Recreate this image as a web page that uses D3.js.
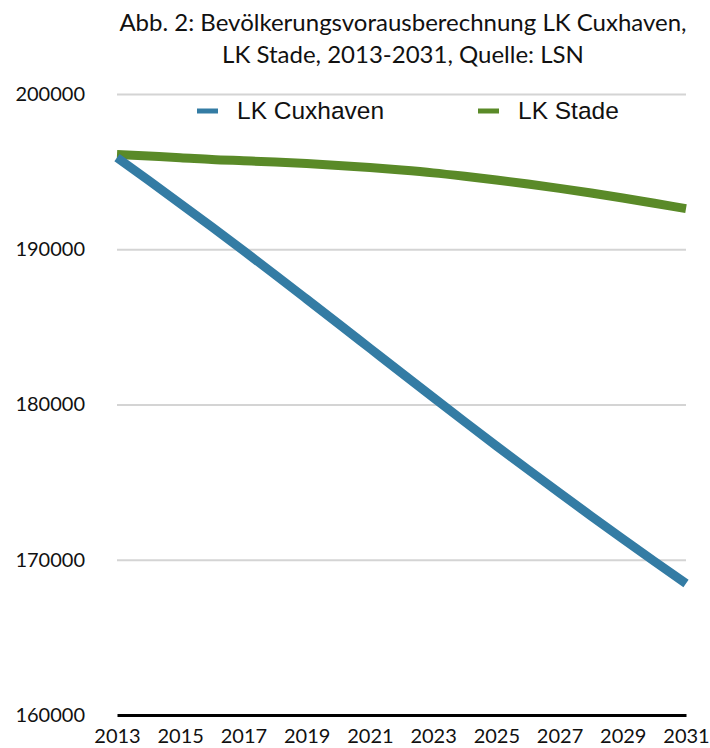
<!DOCTYPE html>
<html>
<head>
<meta charset="utf-8">
<script src="https://cdn.jsdelivr.net/npm/d3@7"></script>
<style>
  body { margin: 0; background: #fff; }
</style>
</head>
<body>
<div class="canvas"></div>
<script>
const years = d3.range(2013, 2032)
const cuxhaven = [195900, 194432, 192943, 191435, 189907, 188359, 186790, 185212, 183624, 182035,
    180457, 178889, 177340, 175812, 174304, 172816, 171347, 169899, 168470]
const stade = [196100, 196000, 195900, 195780, 195700, 195620, 195520, 195400, 195260, 195100,
    194920, 194700, 194460, 194200, 193920, 193620, 193300, 192960, 192620]
const yTicks = [160000, 170000, 180000, 190000, 200000]
const xTicks = [2013, 2015, 2017, 2019, 2021, 2023, 2025, 2027, 2029, 2031]
const seriesNames = ['LK Cuxhaven', 'LK Stade']
const colors = ['#347ca4', '#5a8a28']
const titleLines = ['Abb. 2: Bevölkerungsvorausberechnung LK Cuxhaven,', 'LK Stade, 2013-2031, Quelle: LSN']

const margin = { top: 94, right: 24, bottom: 33, left: 117 }
const width = 710, height = 748
const graphWidth = width - margin.left - margin.right
const graphHeight = height - margin.top - margin.bottom

const svg = d3.select('.canvas')
    .append('svg')
    .attr('width', width)
    .attr('height', height)

const labelFont = 'Lato, "Open Sans", sans-serif'

svg.append('g')
    .selectAll('text')
    .data(titleLines)
    .enter()
    .append('text')
        .attr('x', 403)
        .attr('y', (d, i) => 31 + i * 32)
        .attr('text-anchor', 'middle')
        .attr('font-family', labelFont)
        .attr('font-size', 24)
        .attr('fill', '#111')
        .text(d => d)

const graph = svg.append('g')
    .attr('transform', `translate(${margin.left}, ${margin.top})`)

const xScale = d3.scaleLinear().domain([2013, 2031]).range([0, graphWidth])
const yScale = d3.scaleLinear().domain([160000, 200000]).range([graphHeight, 0])

// gridlines
const yAxis = d3.axisLeft(yScale).tickValues(yTicks).tickSize(-graphWidth).tickPadding(32).tickFormat(d3.format('d'))
const yAxisGroup = graph.append('g').call(yAxis)
yAxisGroup.select('.domain').remove()
yAxisGroup.selectAll('line').attr('stroke', '#d4d4d4').attr('stroke-width', 2)
yAxisGroup.selectAll('text')
    .attr('font-family', labelFont)
    .attr('font-size', 20)
    .attr('fill', '#111')

// bottom axis
const xAxis = d3.axisBottom(xScale).tickValues(xTicks).tickSize(0).tickPadding(14).tickFormat(d3.format('d'))
const xAxisGroup = graph.append('g')
    .attr('transform', `translate(0, ${graphHeight})`)
    .call(xAxis)
xAxisGroup.select('.domain').attr('stroke', '#000').attr('stroke-width', 3)
xAxisGroup.selectAll('text')
    .attr('font-family', labelFont)
    .attr('font-size', 20)
    .attr('fill', '#111')
yAxisGroup.selectAll('.tick').filter(d => d === 160000).select('line').remove()

const lineGenerator = (vals) => d3.line()
    .x((d, i) => xScale(years[i]))
    .y(d => yScale(d))
    .curve(d3.curveMonotoneX)(vals)

graph.append('path')
    .attr('d', lineGenerator(stade))
    .attr('fill', 'none')
    .attr('stroke', colors[1])
    .attr('stroke-width', 9)

graph.append('path')
    .attr('d', lineGenerator(cuxhaven))
    .attr('fill', 'none')
    .attr('stroke', colors[0])
    .attr('stroke-width', 9)

// legend
const legend = svg.append('g')
    .selectAll('g')
    .data(seriesNames)
    .enter()
    .append('g')
        .attr('transform', (d, i) => `translate(${197 + i * 281}, 111)`)

legend.append('line')
    .attr('x1', 0).attr('x2', 21)
    .attr('stroke', (d, i) => colors[i])
    .attr('stroke-width', 5)

legend.append('text')
    .attr('x', 40)
    .attr('y', 8)
    .attr('font-family', '"Liberation Sans", Arial, sans-serif')
    .attr('font-size', 24.5)
    .attr('fill', '#111')
    .text(d => d)
</script>
</body>
</html>
